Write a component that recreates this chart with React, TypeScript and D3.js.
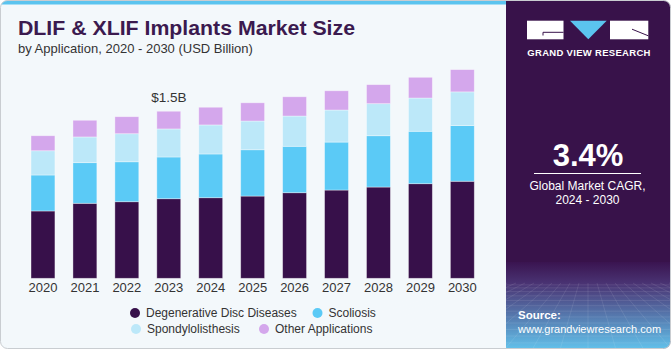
import React, { useEffect, useRef } from 'react'
import * as d3 from 'd3'

// values in USD billion
const years = ['2020', '2021', '2022', '2023', '2024', '2025', '2026', '2027', '2028', '2029', '2030']
const degenerative = [0.605, 0.674, 0.688, 0.715, 0.724, 0.739, 0.769, 0.793, 0.820, 0.850, 0.872]
const scoliosis = [0.323, 0.365, 0.359, 0.375, 0.393, 0.416, 0.417, 0.431, 0.461, 0.471, 0.500]
const spondylolisthesis = [0.218, 0.231, 0.252, 0.252, 0.261, 0.258, 0.272, 0.288, 0.288, 0.299, 0.303]
const otherApps = [0.135, 0.150, 0.153, 0.159, 0.159, 0.164, 0.173, 0.173, 0.171, 0.186, 0.200]

const seriesKeys = ['degenerative', 'scoliosis', 'spondylolisthesis', 'other']
const seriesLabels = ['Degenerative Disc Diseases', 'Scoliosis', 'Spondylolisthesis', 'Other Applications']
const seriesColors = ['#37104a', '#5bcaf6', '#bce8f9', '#d4a7ec']

const annotationYear = '2023'
const annotationText = '$1.5B'

const W = 671
const H = 350
const PANEL_X = 506
const FONT = '"Liberation Sans", Arial, sans-serif'

const App = () => {
  const svgRef = useRef<SVGSVGElement>(null)

  useEffect(() => {
    const svg = d3.select(svgRef.current)
    svg.selectAll('*').remove()

    const rows = years.map((year, i) => ({
      year,
      degenerative: degenerative[i],
      scoliosis: scoliosis[i],
      spondylolisthesis: spondylolisthesis[i],
      other: otherApps[i]
    }))

    const defs = svg.append('defs')
    const grad = defs.append('linearGradient').attr('id', 'panelFade')
      .attr('x1', 0).attr('y1', 0).attr('x2', 0).attr('y2', 1)
    grad.append('stop').attr('offset', '0%').attr('stop-color', '#3a1450')
    grad.append('stop').attr('offset', '25%').attr('stop-color', '#4a3474')
    grad.append('stop').attr('offset', '100%').attr('stop-color', '#62c3ec')
    defs.append('clipPath').attr('id', 'cardClip')
      .append('rect').attr('x', 0.5).attr('y', 0.5)
      .attr('width', W - 1).attr('height', H - 2).attr('rx', 7)

    const card = svg.append('g').attr('clip-path', 'url(#cardClip)')

    // card background + top stripe
    card.append('rect').attr('width', W).attr('height', H).attr('fill', '#f3f8fb')
    card.append('rect').attr('width', PANEL_X).attr('height', 4.5).attr('fill', '#5bc4ef')

    // right panel
    card.append('rect').attr('x', PANEL_X).attr('width', W - PANEL_X).attr('height', H).attr('fill', '#38124a')
    card.append('rect').attr('x', PANEL_X).attr('y', 262).attr('width', W - PANEL_X).attr('height', H - 262)
      .attr('fill', 'url(#panelFade)')

    // perspective grid texture at the bottom of the panel
    const gridG = card.append('g').attr('stroke', '#ffffff').attr('stroke-opacity', 0.16).attr('stroke-width', 0.6)
    const horizon = 283
    const hLines = d3.range(1, 14).map(k => horizon + Math.pow(k / 13, 1.4) * (H - horizon))
    hLines.forEach(y => {
      gridG.append('line').attr('x1', PANEL_X).attr('x2', W).attr('y1', y).attr('y2', y)
    })
    const vanishX = 588
    d3.range(-16, 17).forEach(k => {
      gridG.append('line')
        .attr('x1', vanishX + k * 9).attr('y1', horizon)
        .attr('x2', vanishX + k * 28).attr('y2', H)
    })

    // card outline
    svg.append('rect').attr('x', 0.5).attr('y', 0.5)
      .attr('width', W - 1).attr('height', H - 2).attr('rx', 7)
      .attr('fill', 'none').attr('stroke', '#c9cdd1')

    // title
    svg.append('text').attr('x', 18).attr('y', 35)
      .attr('font-family', FONT).attr('font-size', 21).attr('font-weight', 'bold')
      .attr('textLength', 337).attr('lengthAdjust', 'spacingAndGlyphs')
      .attr('fill', '#3b1a4f').text('DLIF & XLIF Implants Market Size')
    svg.append('text').attr('x', 18).attr('y', 53)
      .attr('font-family', FONT).attr('font-size', 13)
      .attr('fill', '#333333').text('by Application, 2020 - 2030 (USD Billion)')

    // scales
    const xScale = d3.scaleBand<string>()
      .domain(years)
      .range([22, 483.3])
      .paddingInner(0.43)
      .paddingOuter(0.215)
    const yScale = d3.scaleLinear()
      .domain([0, 2])
      .range([278.3, 278.3 - 2 * 111.3])

    const stacked = d3.stack<any>().keys(seriesKeys)(rows)

    const barsG = svg.append('g')
    stacked.forEach((layer, li) => {
      barsG.selectAll(`.seg-${li}`)
        .data(layer)
        .join('rect')
        .attr('class', `seg-${li}`)
        .attr('x', d => xScale(d.data.year)!)
        .attr('width', xScale.bandwidth())
        .attr('y', d => yScale(d[1]))
        .attr('height', d => yScale(d[0]) - yScale(d[1]))
        .attr('fill', seriesColors[li])
        .attr('stroke', '#ffffff')
        .attr('stroke-opacity', 0.45)
        .attr('stroke-width', 0.8)
    })

    // x axis (labels only)
    const xAxis = d3.axisBottom(xScale).tickSize(0).tickPadding(0)
    const axisG = svg.append('g').attr('transform', 'translate(0,279)').call(xAxis)
    axisG.select('.domain').remove()
    axisG.selectAll('text')
      .attr('font-family', FONT).attr('font-size', 13).attr('fill', '#333333')
      .attr('dy', null).attr('y', 12.7)

    // annotation
    const annIdx = years.indexOf(annotationYear)
    const annTotal = degenerative[annIdx] + scoliosis[annIdx] + spondylolisthesis[annIdx] + otherApps[annIdx]
    svg.append('text')
      .attr('x', xScale(annotationYear)! + xScale.bandwidth() / 2)
      .attr('y', yScale(annTotal) - 9.5)
      .attr('text-anchor', 'middle')
      .attr('font-family', FONT).attr('font-size', 13.5).attr('fill', '#333333')
      .text(annotationText)

    // legend
    const legendPos = [
      { x: 135, y: 313 },
      { x: 317.5, y: 313 },
      { x: 136, y: 329 },
      { x: 264, y: 329 }
    ]
    const legendG = svg.append('g')
    seriesLabels.forEach((label, i) => {
      const p = legendPos[i]
      legendG.append('circle').attr('cx', p.x).attr('cy', p.y).attr('r', 5).attr('fill', seriesColors[i])
      legendG.append('text').attr('x', p.x + 11).attr('y', p.y + 4.2)
        .attr('font-family', FONT).attr('font-size', 12).attr('fill', '#333333').text(label)
    })

    // logo
    const logo = svg.append('g')
    logo.append('rect').attr('x', 527).attr('y', 20.7).attr('width', 36.5).attr('height', 18.6).attr('fill', '#ffffff')
    logo.append('path').attr('d', 'M543,35.5 L543,32.3 L563.5,32.3')
      .attr('fill', 'none').attr('stroke', '#38124a').attr('stroke-width', 1)
    logo.append('path').attr('d', 'M570,20.7 L606.7,20.7 L588.3,39.3 Z').attr('fill', '#5bc4ef')
    logo.append('rect').attr('x', 610).attr('y', 20.7).attr('width', 38.3).attr('height', 18.6).attr('fill', '#ffffff')
    logo.append('path').attr('d', 'M632,29.2 L648.3,35.8')
      .attr('fill', 'none').attr('stroke', '#38124a').attr('stroke-width', 1)
    logo.append('text').attr('x', 527.3).attr('y', 55.5)
      .attr('font-family', FONT).attr('font-size', 9.5).attr('font-weight', 'bold')
      .attr('letter-spacing', 0.3)
      .attr('fill', '#ffffff')
      .text('GRAND VIEW RESEARCH')

    // CAGR block
    svg.append('text').attr('x', 588).attr('y', 165.7).attr('text-anchor', 'middle')
      .attr('font-family', FONT).attr('font-size', 31).attr('font-weight', 'bold')
      .attr('fill', '#ffffff').text('3.4%')
    svg.append('line').attr('x1', 534).attr('x2', 641).attr('y1', 173.5).attr('y2', 173.5)
      .attr('stroke', '#ffffff').attr('stroke-width', 1)
    svg.append('text').attr('x', 587.5).attr('y', 189.5).attr('text-anchor', 'middle')
      .attr('font-family', FONT).attr('font-size', 12).attr('fill', '#ffffff').text('Global Market CAGR,')
    svg.append('text').attr('x', 587.5).attr('y', 204).attr('text-anchor', 'middle')
      .attr('font-family', FONT).attr('font-size', 12).attr('fill', '#ffffff').text('2024 - 2030')

    // source
    svg.append('text').attr('x', 518).attr('y', 318.5)
      .attr('font-family', FONT).attr('font-size', 11.5).attr('font-weight', 'bold')
      .attr('fill', '#ffffff').text('Source:')
    svg.append('text').attr('x', 518).attr('y', 332.5)
      .attr('font-family', FONT).attr('font-size', 11)
      .attr('fill', '#ffffff').text('www.grandviewresearch.com')
  }, [])

  return <React.Fragment>
    <style>{'body{margin:0}'}</style>
    <svg ref={svgRef} width={W} height={H} style={{ display: 'block' }} />
  </React.Fragment>
}

export default App
